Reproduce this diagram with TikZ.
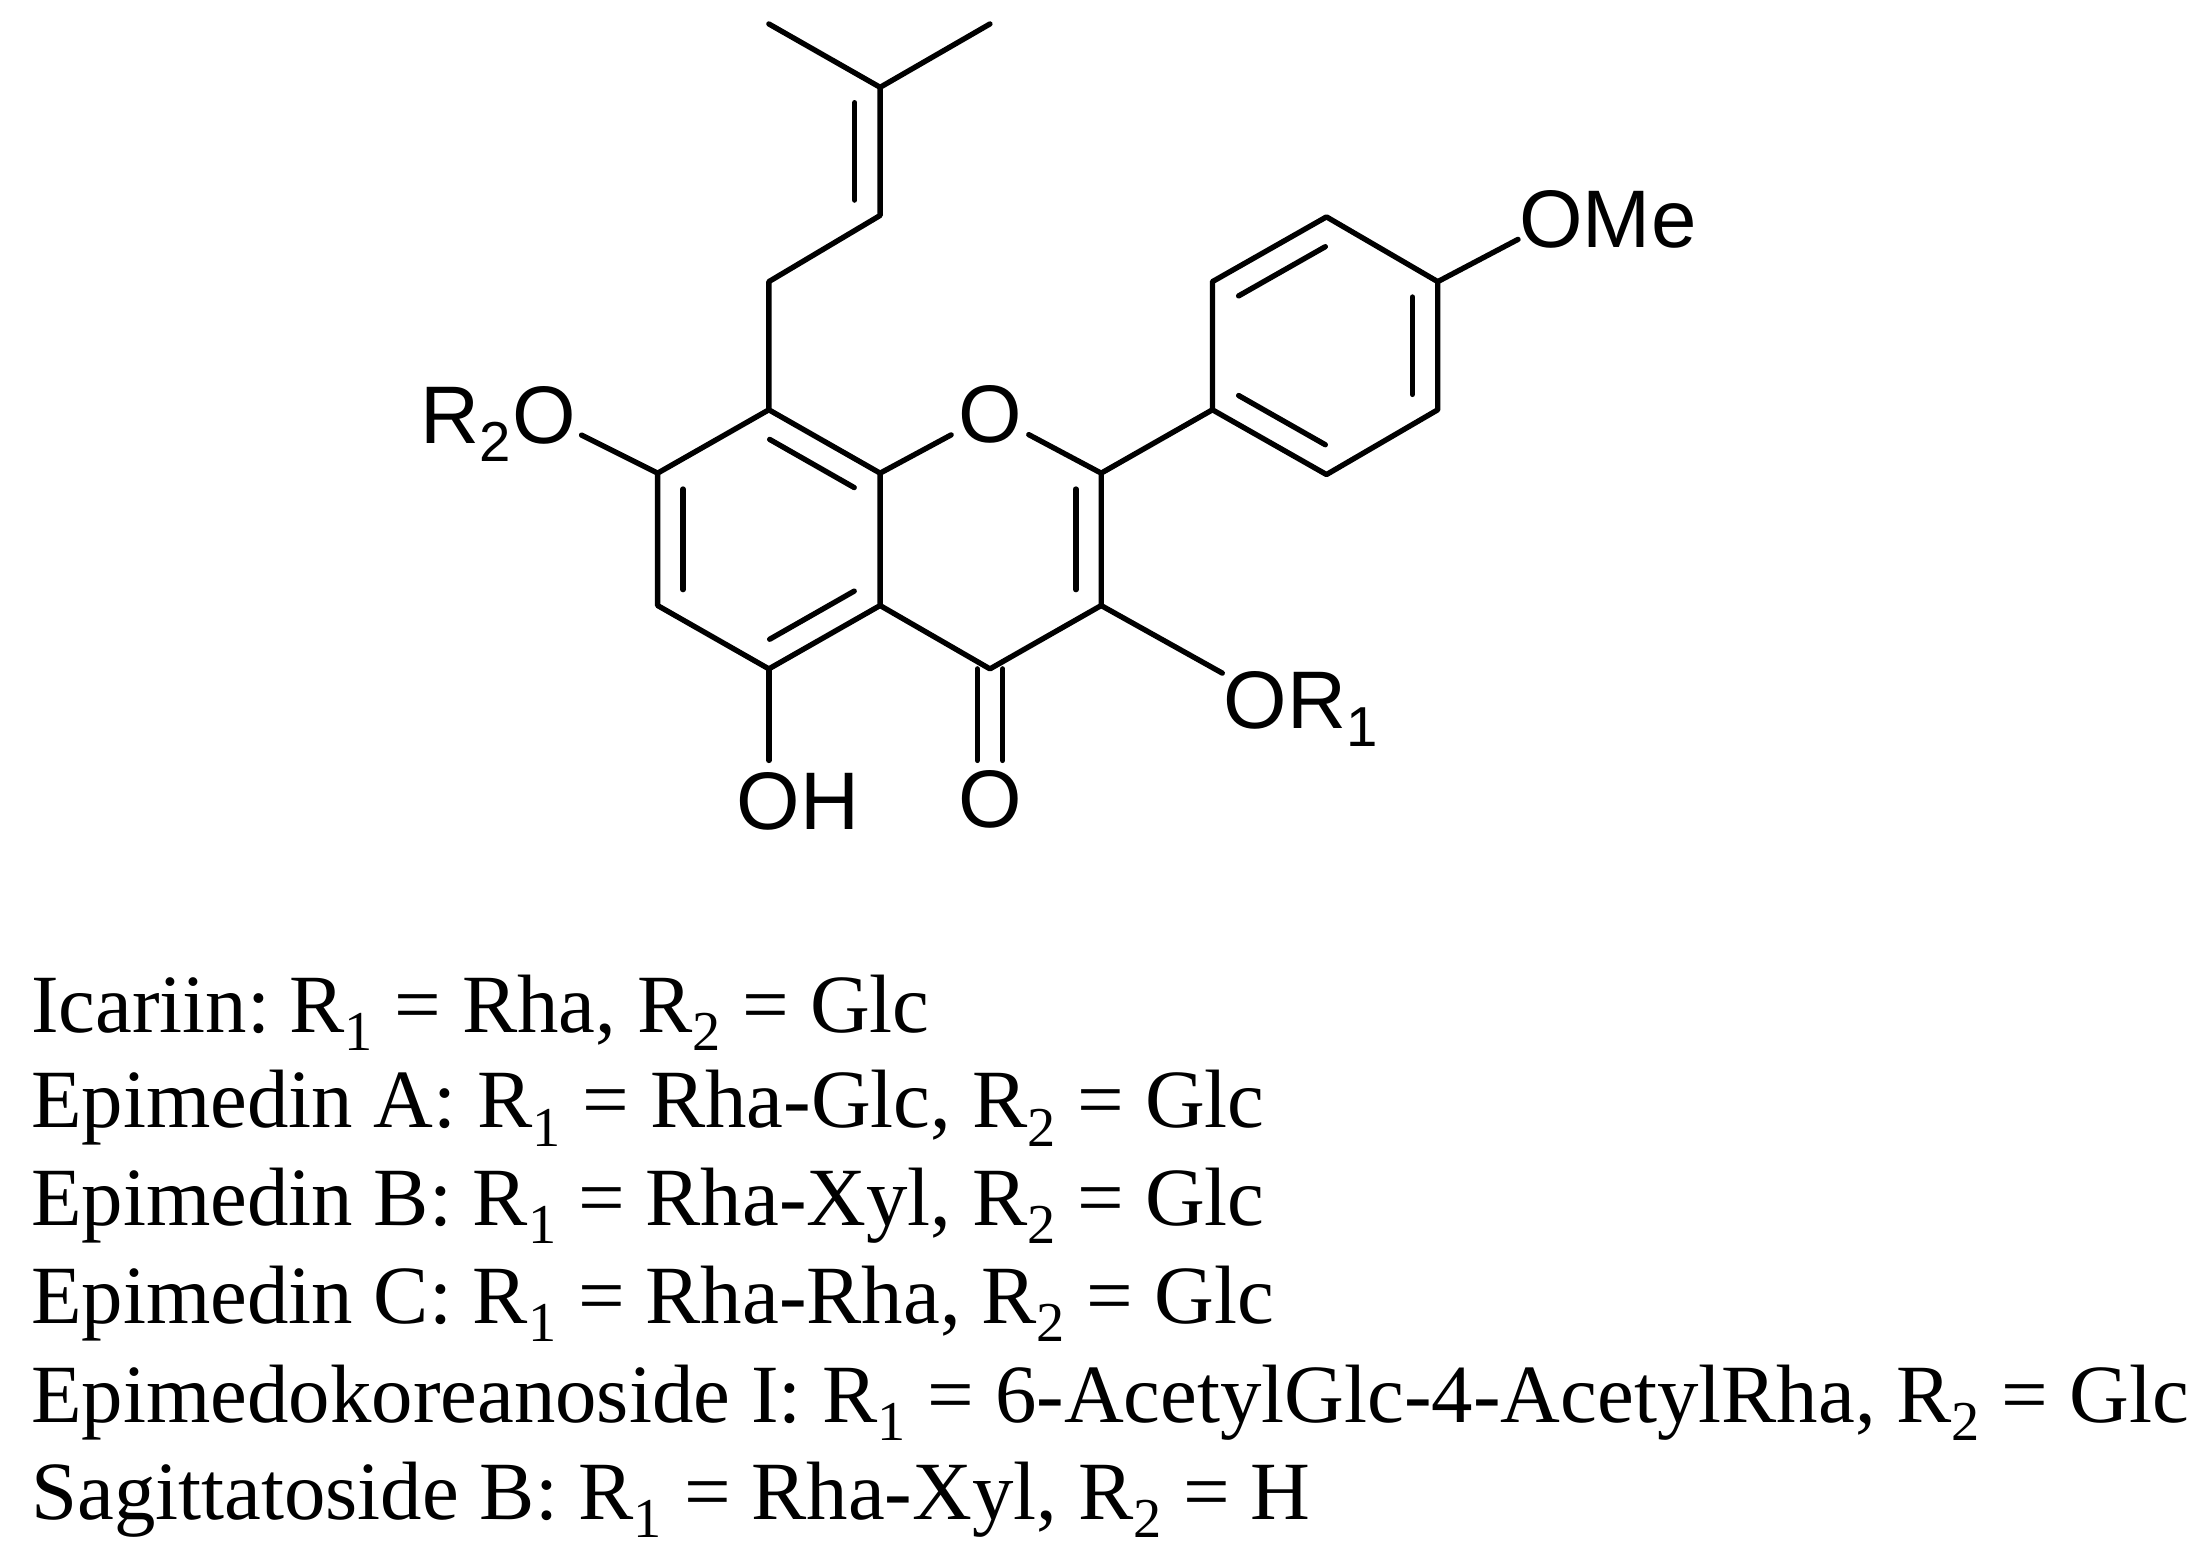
\documentclass[tikz,border=0pt]{standalone}
\usepackage{fontspec}
\usetikzlibrary{calc}
\setmainfont{Liberation Serif}
\newfontfamily\chemfont{Liberation Sans}
\newcommand{\sbs}[1]{\raisebox{-0.22em}{\fontsize{40}{40}\selectfont #1}\hspace{1pt}}
\tikzset{
 x=1pt,y=-1pt,
 bond/.style={line width=3.8pt,line cap=round,line join=round,black},
 atomlabel/.style={font=\chemfont\fontsize{58}{60}\selectfont,inner sep=1pt,outer sep=4pt},
 legend/.style={font=\fontsize{58.8}{60}\selectfont,anchor=base west,inner sep=0pt},
}
\newcommand{\dbl}[3]{\draw[bond] ($(#1)!.12!(#2)!18pt!#3:(#2)$) -- ($(#2)!.12!(#1)!18pt!-#3:(#1)$);}
\begin{document}
\begin{tikzpicture}
\useasboundingbox (0,0) rectangle (1568,1109);
\coordinate (me1) at (546,17);
\coordinate (c9) at (625,62);
\coordinate (me2) at (703,17);
\coordinate (c10) at (625,153);
\coordinate (c11) at (546,200);
\coordinate (c8) at (546,291);
\coordinate (c8a) at (625,336);
\coordinate (c2) at (782,336);
\coordinate (c3) at (782,430);
\coordinate (c4) at (703,475);
\coordinate (c4a) at (625,430);
\coordinate (c5) at (546,475);
\coordinate (c6) at (467,430);
\coordinate (c7) at (467,336);
\coordinate (p1) at (861,291);
\coordinate (p2) at (861,200);
\coordinate (p3) at (942,154);
\coordinate (p4) at (1021,200);
\coordinate (p5) at (1021,291);
\coordinate (p6) at (942,337);
\node[atomlabel] (o1) at (703,294) {O};
\node[atomlabel] (oc) at (703,568) {O};
\node[atomlabel,anchor=base west,inner sep=0pt,outer sep=0pt] (ome) at (1079,176) {OMe};
\node[atomlabel,anchor=base west,inner sep=0pt,outer sep=0pt] (oh) at (523,589) {OH};
\node[atomlabel,anchor=base west,inner sep=0pt,outer sep=0pt] (or1) at (869,517) {OR\sbs{1}};
\node[atomlabel,anchor=base east,inner sep=0pt,outer sep=0pt] (or2) at (409,315) {R\sbs{2}O};
\coordinate (or2end) at (413,309);
\coordinate (or1end) at (868,478);
\coordinate (ohend) at (546,540);
\coordinate (omeend) at (1078,170);
\draw[bond] (me1) -- (c9) -- (me2);
\draw[bond] (c9) -- (c10) -- (c11) -- (c8) -- (c8a) -- (c4a) -- (c5) -- (c6) -- (c7) -- (c8);
\draw[bond] (c8a) -- (o1) -- (c2) -- (c3) -- (c4) -- (c4a);
\draw[bond] (c2) -- (p1);
\draw[bond] (p1) -- (p2) -- (p3) -- (p4) -- (p5) -- (p6) -- cycle;
\draw[bond] (p4) -- (omeend);
\draw[bond] (c7) -- (or2end);
\draw[bond] (c3) -- (or1end);
\draw[bond] (c5) -- (ohend);
\draw[bond] ($(c4)+(-9,0)$) -- ($(oc.center)+(-9,-28)$);
\draw[bond] ($(c4)+(9,0)$) -- ($(oc.center)+(9,-28)$);
\dbl{c9}{c10}{-90}
\dbl{c8}{c8a}{-90}
\dbl{c7}{c6}{90}
\dbl{c5}{c4a}{90}
\dbl{c2}{c3}{-90}
\dbl{p2}{p3}{-90}
\dbl{p4}{p5}{-90}
\dbl{p6}{p1}{-90}
\node[legend] (l1) at (22,733) {Icariin:\hspace{-6pt} R\sbs{1} = Rha, R\sbs{2} = Glc};
\node[legend] (l2) at (22,801) {Epimedin A: R\sbs{1} = Rha-Glc, R\sbs{2} = Glc};
\node[legend] (l3) at (22,870) {Epimedin B: R\sbs{1} = Rha-Xyl, R\sbs{2} = Glc};
\node[legend] (l4) at (22,940) {Epimedin C: R\sbs{1} = Rha-Rha, R\sbs{2} = Glc};
\node[legend] (l5) at (22,1010) {Epimedokoreanoside I: R\sbs{1} = 6-AcetylGlc-4-AcetylRha, R\sbs{2} = Glc};
\node[legend] (l6) at (22,1079) {Sagittatoside B: R\sbs{1} = Rha-Xyl, R\sbs{2} = H};
\end{tikzpicture}
\end{document}
